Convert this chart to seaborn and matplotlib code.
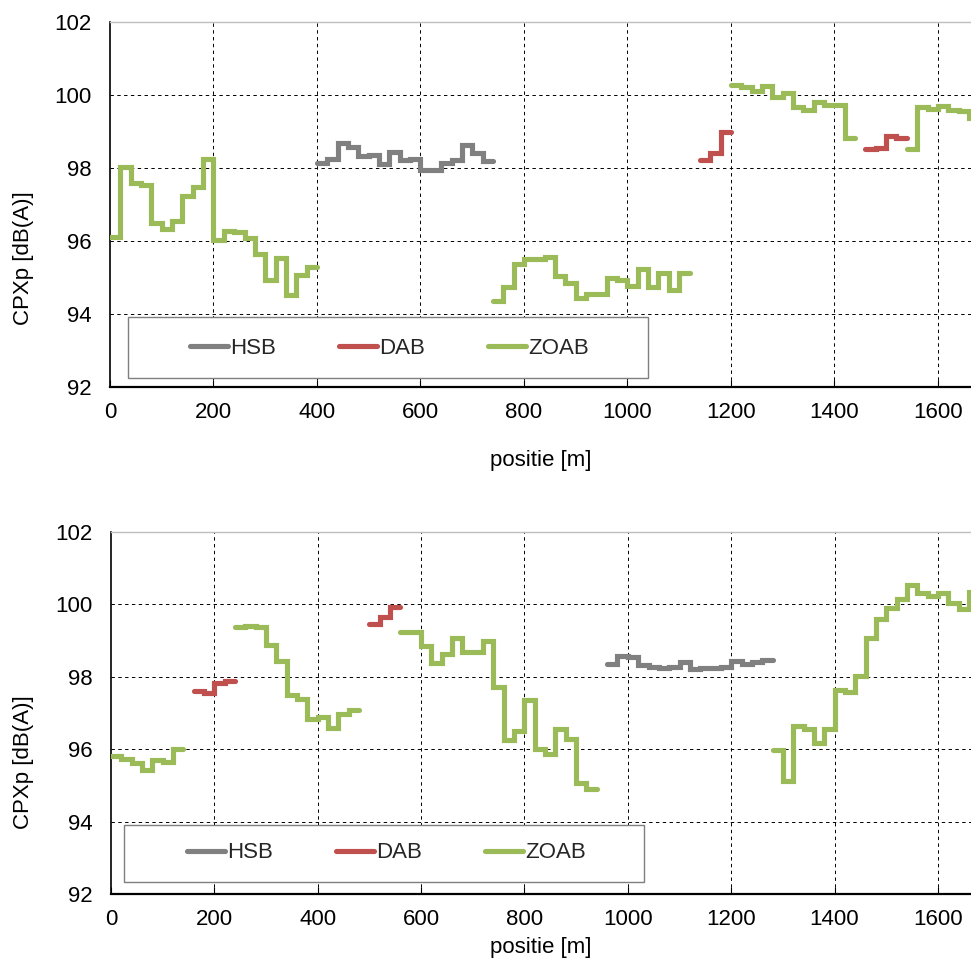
import numpy as np
import pandas as pd
import matplotlib
matplotlib.use("Agg")
import matplotlib.pyplot as plt
from matplotlib.lines import Line2D
from matplotlib.patches import Rectangle
import seaborn as sns

# ---------------- data ----------------
road_types = ["HSB", "DAB", "ZOAB"]
type_colors = {"HSB": "#808080", "DAB": "#C0504D", "ZOAB": "#9BBB59"}

# top panel (step edges in m, level per interval in dB(A))
top_zoab1_x = [0, 20, 40, 60, 80, 100, 120, 140, 160, 180, 200, 220, 240, 260, 280, 300, 320, 340, 360, 380, 400]
top_zoab1_y = [96.12, 98.04, 97.60, 97.54, 96.48, 96.33, 96.56, 97.24, 97.47, 98.26, 96.03, 96.28, 96.24, 96.09, 95.64, 94.93, 95.53, 94.52, 95.07, 95.28]
top_hsb1_x = [400, 420, 440, 460, 480, 500, 520, 540, 560, 580, 600, 620, 640, 660, 680, 700, 720, 740]
top_hsb1_y = [98.15, 98.25, 98.68, 98.57, 98.34, 98.36, 98.12, 98.43, 98.23, 98.26, 97.95, 97.95, 98.14, 98.23, 98.64, 98.41, 98.18]
top_zoab2_x = [740, 760, 780, 800, 820, 840, 860, 880, 900, 920, 940, 960, 980, 1000, 1020, 1040, 1060, 1080, 1100, 1120]
top_zoab2_y = [94.35, 94.73, 95.37, 95.50, 95.50, 95.57, 95.05, 94.84, 94.43, 94.56, 94.56, 94.98, 94.93, 94.77, 95.22, 94.75, 95.13, 94.67, 95.13]
top_dab1_x = [1140, 1160, 1180, 1200]
top_dab1_y = [98.22, 98.42, 99.00]
top_zoab3_x = [1200, 1220, 1240, 1260, 1280, 1300, 1320, 1340, 1360, 1380, 1400, 1420, 1440]
top_zoab3_y = [100.27, 100.23, 100.11, 100.25, 99.95, 100.05, 99.66, 99.59, 99.82, 99.73, 99.73, 98.82]
top_dab2_x = [1460, 1480, 1500, 1520, 1540]
top_dab2_y = [98.52, 98.56, 98.88, 98.82]
top_zoab4_x = [1540, 1560, 1580, 1600, 1620, 1640, 1660, 1680]
top_zoab4_y = [98.53, 99.66, 99.61, 99.70, 99.59, 99.56, 99.38]

# bottom panel
bot_zoab1_x = [0, 20, 40, 60, 80, 100, 120, 140]
bot_zoab1_y = [95.80, 95.73, 95.61, 95.43, 95.71, 95.64, 96.01]
bot_dab1_x = [160, 180, 200, 220, 240]
bot_dab1_y = [97.61, 97.55, 97.82, 97.88]
bot_zoab2_x = [240, 260, 280, 300, 320, 340, 360, 380, 400, 420, 440, 460, 480]
bot_zoab2_y = [99.38, 99.41, 99.38, 98.88, 98.44, 97.50, 97.40, 96.83, 96.90, 96.58, 96.98, 97.09]
bot_dab2_x = [500, 520, 540, 560]
bot_dab2_y = [99.46, 99.66, 99.92]
bot_zoab3_x = [560, 580, 600, 620, 640, 660, 680, 700, 720, 740, 760, 780, 800, 820, 840, 860, 880, 900, 920, 940]
bot_zoab3_y = [99.24, 99.24, 98.85, 98.37, 98.62, 99.06, 98.69, 98.69, 98.99, 97.73, 96.26, 96.49, 97.35, 96.00, 95.87, 96.56, 96.29, 95.08, 94.90]
bot_hsb1_x = [960, 980, 1000, 1020, 1040, 1060, 1080, 1100, 1120, 1140, 1160, 1180, 1200, 1220, 1240, 1260, 1280]
bot_hsb1_y = [98.34, 98.58, 98.55, 98.33, 98.28, 98.24, 98.28, 98.42, 98.21, 98.24, 98.24, 98.28, 98.44, 98.35, 98.42, 98.47]
bot_zoab4_x = [1280, 1300, 1320, 1340, 1360, 1380, 1400, 1420, 1440, 1460, 1480, 1500, 1520, 1540, 1560, 1580, 1600, 1620, 1640, 1660, 1680]
bot_zoab4_y = [95.98, 95.11, 96.65, 96.56, 96.17, 96.56, 97.63, 97.57, 98.03, 99.08, 99.59, 99.89, 100.14, 100.53, 100.31, 100.23, 100.31, 100.04, 99.86, 100.35]

x_ticks = [0, 200, 400, 600, 800, 1000, 1200, 1400, 1600]
y_ticks = [92, 94, 96, 98, 100, 102]
y_label = "CPXp [dB(A)]"
x_label = "positie [m]"

top_segments = [("ZOAB", top_zoab1_x, top_zoab1_y), ("HSB", top_hsb1_x, top_hsb1_y),
                ("ZOAB", top_zoab2_x, top_zoab2_y), ("DAB", top_dab1_x, top_dab1_y),
                ("ZOAB", top_zoab3_x, top_zoab3_y), ("DAB", top_dab2_x, top_dab2_y),
                ("ZOAB", top_zoab4_x, top_zoab4_y)]
bot_segments = [("ZOAB", bot_zoab1_x, bot_zoab1_y), ("DAB", bot_dab1_x, bot_dab1_y),
                ("ZOAB", bot_zoab2_x, bot_zoab2_y), ("DAB", bot_dab2_x, bot_dab2_y),
                ("ZOAB", bot_zoab3_x, bot_zoab3_y), ("HSB", bot_hsb1_x, bot_hsb1_y),
                ("ZOAB", bot_zoab4_x, bot_zoab4_y)]


def to_frame(segments):
    rows = []
    for i, (kind, xs, ys) in enumerate(segments):
        vals = list(ys) + [ys[-1]]  # close the last step at the segment end
        for x, y in zip(xs, vals):
            rows.append({"positie": x, "CPXp": y, "type": kind, "seg": i})
    return pd.DataFrame(rows)


# ---------------- style ----------------
sns.set_theme(style="white")
plt.rcParams["font.family"] = ["Liberation Sans", "DejaVu Sans"]
FS = 16

fig = plt.figure(figsize=(9.71, 9.59), dpi=100)
W, H = 971.0, 959.0

panels = [
    dict(rect=[110 / W, 1 - 387 / H, 861 / W, 365 / H], segs=top_segments,
         leg=(190, 348), box=(128, 317, 648, 378), labelpad_x=19, ylab_y=0.353),
    dict(rect=[111 / W, 1 - 894 / H, 860 / W, 362 / H], segs=bot_segments,
         leg=(187, 853), box=(124, 825, 644, 882), labelpad_x=5, ylab_y=0.365),
]

for p in panels:
    ax = fig.add_axes(p["rect"])
    df = to_frame(p["segs"])
    sns.lineplot(data=df, x="positie", y="CPXp", hue="type", units="seg",
                 estimator=None, sort=False, palette=type_colors,
                 drawstyle="steps-post", linewidth=3.7, legend=False, ax=ax,
                 solid_capstyle="round", solid_joinstyle="miter", zorder=3)
    ax.set_xlim(0, 1664)
    ax.set_ylim(92, 102)
    ax.set_xticks(x_ticks)
    ax.set_yticks(y_ticks)
    ax.set_xticklabels([str(t) for t in x_ticks])
    ax.set_yticklabels([str(t) for t in y_ticks])
    for yv in y_ticks[1:-1]:
        ax.axhline(yv, color="black", lw=0.7, ls=(0, (3.5, 3.5)), zorder=1)
    for xv in x_ticks[1:]:
        ax.axvline(xv, color="black", lw=0.7, ls=(0, (3.5, 3.5)), zorder=1)
    ax.tick_params(axis="x", direction="in", length=5, width=0.8, color="black",
                   pad=11, labelsize=FS, labelcolor="black", bottom=True)
    ax.tick_params(axis="y", length=0, pad=13, labelsize=FS, labelcolor="black", left=True)
    for side in ["left", "bottom"]:
        ax.spines[side].set_color("black")
    ax.spines["left"].set_linewidth(1.2)
    ax.spines["bottom"].set_linewidth(1.6)
    ax.spines["top"].set_color("#bfbfbf")
    ax.spines["top"].set_linewidth(1.0)
    ax.spines["right"].set_visible(False)
    ax.set_xlabel(x_label, fontsize=FS, color="black", labelpad=p["labelpad_x"])
    ax.set_ylabel(y_label, fontsize=FS, color="black")

    ax_x0 = p["rect"][0] * W
    ax_y1 = (1 - p["rect"][1]) * H
    ax_w = p["rect"][2] * W
    ax_h = p["rect"][3] * H
    ax.yaxis.set_label_coords((34 - ax_x0) / ax_w, p["ylab_y"])

    # legend box and entries
    bx0, by0, bx1, by1 = p["box"]
    ax.add_patch(Rectangle(((bx0 - ax_x0) / ax_w, (ax_y1 - by1) / ax_h),
                           (bx1 - bx0) / ax_w, (by1 - by0) / ax_h,
                           transform=ax.transAxes, facecolor="white",
                           edgecolor="#7f7f7f", lw=1.0, zorder=4))
    handles = [Line2D([0], [0], color=type_colors[t], lw=3.7, solid_capstyle="round")
               for t in road_types]
    lx, ly = p["leg"]
    leg = ax.legend(handles, road_types, loc="center left", ncol=3,
                    bbox_to_anchor=((lx - ax_x0) / ax_w, (ax_y1 - ly) / ax_h),
                    frameon=False, fontsize=FS, handlelength=1.7,
                    handletextpad=0.1, columnspacing=2.85, borderpad=0,
                    borderaxespad=0)
    leg.set_zorder(5)

fig.savefig("out.png", dpi=100)
